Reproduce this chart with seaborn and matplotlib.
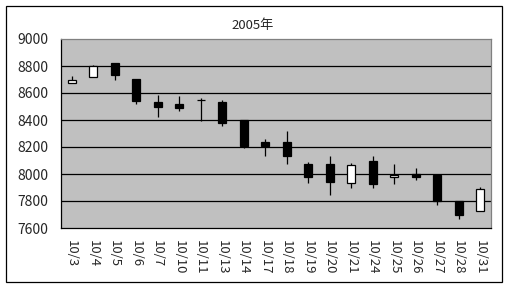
import matplotlib
matplotlib.use("Agg")
import matplotlib.pyplot as plt
import seaborn as sns
import numpy as np
import pandas as pd
from matplotlib.patches import Rectangle

dates = ["10/3", "10/4", "10/5", "10/6", "10/7", "10/10", "10/11", "10/13", "10/14", "10/17",
         "10/18", "10/19", "10/20", "10/21", "10/24", "10/25", "10/26", "10/27", "10/28", "10/31"]
open_ = [8675, 8715, 8820, 8700, 8535, 8520, 8550, 8530, 8400, 8240,
         8240, 8075, 8075, 7930, 8100, 7975, 8000, 7990, 7800, 7725]
close = [8700, 8800, 8730, 8540, 8500, 8490, 8547, 8380, 8210, 8210,
         8130, 7980, 7940, 8070, 7925, 7995, 7975, 7800, 7695, 7890]
high = [8725, 8810, 8825, 8700, 8585, 8575, 8560, 8550, 8400, 8260,
        8320, 8090, 8135, 8085, 8130, 8075, 8045, 8000, 7800, 7905]
low = [8675, 8715, 8700, 8515, 8420, 8470, 8390, 8355, 8190, 8135,
       8075, 7930, 7845, 7900, 7900, 7925, 7955, 7770, 7670, 7725]
yticks = [7600, 7800, 8000, 8200, 8400, 8600, 8800, 9000]
title = "2005年"

sns.set_style("white")
plt.rcParams['font.family'] = ['Noto Sans CJK JP', 'DejaVu Sans']

df = pd.DataFrame({"date": dates, "open": open_, "close": close, "high": high, "low": low})
df["bottom"] = df[["open", "close"]].min(axis=1)
df["height"] = (df["close"] - df["open"]).abs()
df["height"] = df["height"].clip(lower=1.5)

fig = plt.figure(figsize=(5.06, 2.88), dpi=100)
ax = fig.add_axes([61/506, 1-228/288, 430/506, 189/288])
ax.set_facecolor("#C0C0C0")

x = np.arange(len(dates))
ax.vlines(x, df["low"], df["high"], color="black", linewidth=0.9, zorder=2)

sns.barplot(data=df, x="date", y="height", order=dates, bottom=df["bottom"].values,
            color="black", saturation=1, width=0.37, errorbar=None, ax=ax, zorder=3,
            linewidth=0.9, edgecolor="black")
for p, o, c in zip(ax.patches, df["open"], df["close"]):
    p.set_facecolor("white" if c > o else "black")
    p.set_edgecolor("black")

ax.set_xlim(-0.5, len(dates) - 0.5)
ax.set_ylim(7600, 9000)
ax.set_yticks(yticks)
ax.set_yticklabels([str(v) for v in yticks])
for v in yticks[1:-1]:
    ax.axhline(v, color="black", linewidth=0.9, zorder=1)
ax.set_xlabel("")
ax.set_ylabel("")

ax.set_xticks(x)
ax.set_xticklabels(dates, rotation=-90, va="top", ha="center")
ax.set_xticks(np.arange(len(dates) - 1) + 0.5, minor=True)
ax.tick_params(axis="x", which="major", length=0, pad=9, labelsize=9.5)
ax.tick_params(axis="x", which="minor", direction="in", length=3.5, width=0.8, color="black")
ax.tick_params(axis="y", which="major", direction="in", length=3.5, width=0.8, pad=9, labelsize=10)

for s in ["left", "bottom"]:
    ax.spines[s].set_color("black")
    ax.spines[s].set_linewidth(0.9)
for s in ["top", "right"]:
    ax.spines[s].set_color("#808080")
    ax.spines[s].set_linewidth(0.9)

fig.text(0.5, 1-25/288, title, ha="center", va="center", fontsize=9.5)

fig.add_artist(Rectangle((6/506, 1-282/288), 496/506, 276/288, transform=fig.transFigure,
                         fill=False, edgecolor="black", linewidth=0.9))

fig.savefig("out.png", dpi=100)
